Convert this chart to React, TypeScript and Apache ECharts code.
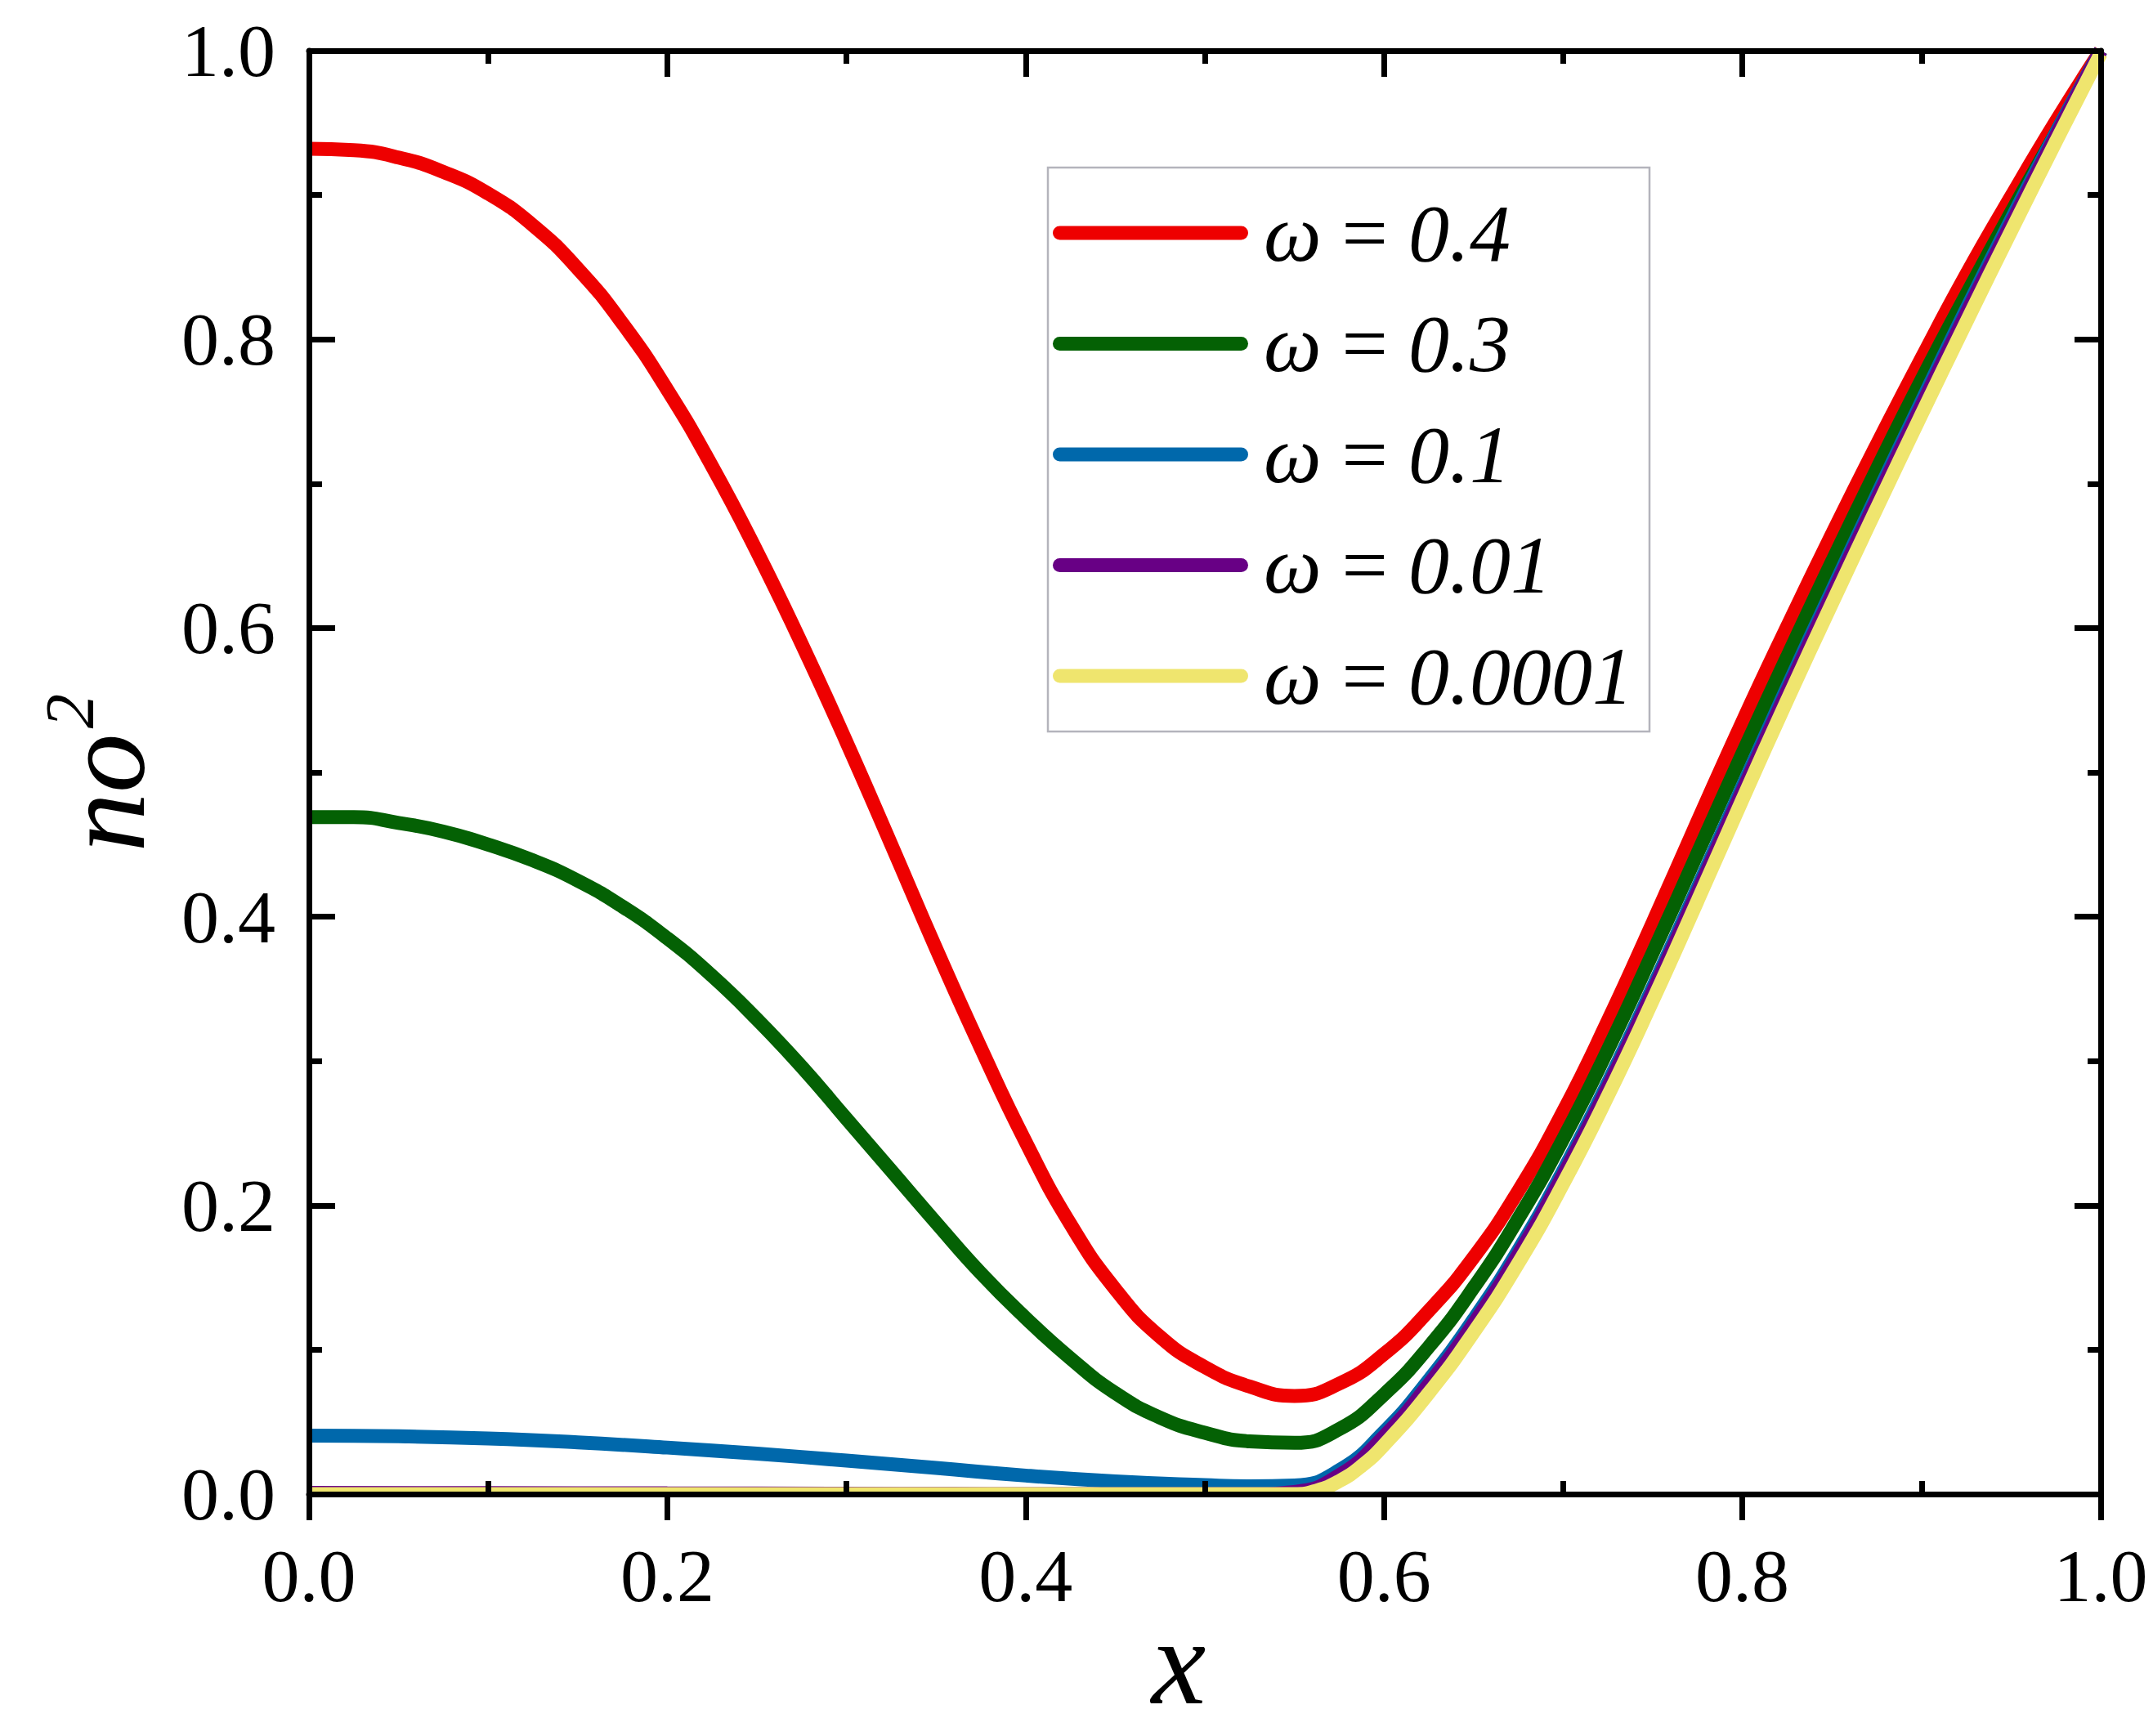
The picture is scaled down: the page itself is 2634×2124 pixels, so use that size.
import React, { useEffect, useRef } from 'react';
import * as echarts from 'echarts';

// ---------- data ----------
const seriesNames = ['ω = 0.4', 'ω = 0.3', 'ω = 0.1', 'ω = 0.01', 'ω = 0.0001'];
const seriesColors = ['#EE0000', '#046104', '#0068AB', '#680085', '#EFE56E'];

const omega04: [number, number][] = [
  [0, 0.932], [0.025, 0.931], [0.05, 0.926], [0.075, 0.916], [0.1, 0.901], [0.125, 0.879],
  [0.15, 0.849], [0.175, 0.811], [0.2, 0.765], [0.225, 0.712], [0.25, 0.653], [0.275, 0.589],
  [0.3, 0.521], [0.325, 0.45], [0.35, 0.378], [0.375, 0.309], [0.4, 0.244], [0.425, 0.187],
  [0.45, 0.142], [0.475, 0.109], [0.5, 0.088], [0.525, 0.0745], [0.55, 0.068], [0.575, 0.0765],
  [0.6, 0.097], [0.625, 0.127], [0.65, 0.164], [0.675, 0.21], [0.7, 0.265],
  [0.725, 0.328], [0.75, 0.396], [0.775, 0.466], [0.8, 0.535], [0.825, 0.601], [0.85, 0.665],
  [0.875, 0.727], [0.9, 0.787], [0.925, 0.845], [0.95, 0.899], [0.975, 0.951], [1, 1.0],
];

const omega03: [number, number][] = [
  [0, 0.469], [0.025, 0.469], [0.05, 0.465], [0.075, 0.459], [0.1, 0.45], [0.125, 0.439],
  [0.15, 0.425], [0.175, 0.407], [0.2, 0.385], [0.225, 0.359], [0.25, 0.329], [0.275, 0.296],
  [0.3, 0.26], [0.325, 0.224], [0.35, 0.188], [0.375, 0.153], [0.4, 0.122], [0.425, 0.094],
  [0.45, 0.07], [0.475, 0.053], [0.5, 0.0425], [0.525, 0.0365], [0.55, 0.0355], [0.575, 0.045],
  [0.6, 0.069], [0.625, 0.102], [0.65, 0.143], [0.675, 0.191], [0.7, 0.246],
  [0.725, 0.308], [0.75, 0.375], [0.775, 0.444], [0.8, 0.513], [0.825, 0.58], [0.85, 0.646],
  [0.875, 0.71], [0.9, 0.772], [0.925, 0.831], [0.95, 0.888], [0.975, 0.943], [1, 1.0],
];

const omega01: [number, number][] = [
  [0, 0.0405], [0.05, 0.04], [0.1, 0.0385], [0.15, 0.0358], [0.2, 0.0322], [0.25, 0.028],
  [0.3, 0.0232], [0.35, 0.0181], [0.4, 0.0128], [0.45, 0.0088], [0.5, 0.0062], [0.525, 0.0054],
  [0.55, 0.006], [0.575, 0.0165], [0.6, 0.043], [0.625, 0.079],
  [0.65, 0.121], [0.675, 0.169], [0.7, 0.224], [0.725, 0.285], [0.75, 0.351], [0.775, 0.42],
  [0.8, 0.49], [0.825, 0.559], [0.85, 0.626], [0.875, 0.692], [0.9, 0.757], [0.925, 0.821],
  [0.95, 0.883], [0.975, 0.943], [1, 1.0],
];

const omega001: [number, number][] = [
  [0, 0.0008], [0.1, 0.0007], [0.2, 0.0005], [0.3, 0.0003], [0.36, 0.0001], [0.4, 0],
  [0.5, 0], [0.525, 0], [0.55, 0.0015], [0.575, 0.013], [0.6, 0.04],
  [0.625, 0.076], [0.65, 0.118], [0.675, 0.166], [0.7, 0.221], [0.725, 0.282], [0.75, 0.348],
  [0.775, 0.417], [0.8, 0.487], [0.825, 0.556], [0.85, 0.623], [0.875, 0.689], [0.9, 0.754],
  [0.925, 0.818], [0.95, 0.88], [0.975, 0.941], [1, 1.0],
];

const omega00001: [number, number][] = [
  [0, 0], [0.2, 0], [0.4, 0], [0.5, 0], [0.525, 0], [0.55, 0], [0.5625, 0.0025], [0.575, 0.009],
  [0.5875, 0.0195], [0.6, 0.034], [0.625, 0.07], [0.65, 0.112], [0.675, 0.16], [0.7, 0.215],
  [0.725, 0.276], [0.75, 0.342], [0.775, 0.411], [0.8, 0.481], [0.825, 0.55], [0.85, 0.617],
  [0.875, 0.683], [0.9, 0.748], [0.925, 0.812], [0.95, 0.875], [0.975, 0.937], [1, 0.998],
];

const seriesData = [omega04, omega03, omega01, omega001, omega00001];

const xTickValues = [0, 0.2, 0.4, 0.6, 0.8, 1.0];
const yTickValues = [0, 0.2, 0.4, 0.6, 0.8, 1.0];

// ---------- styling ----------
const FONT = '"Liberation Serif", "Times New Roman", Times, serif';
const AX = { color: '#000', width: 7 };

export default function App() {
  const ref = useRef<HTMLDivElement>(null);

  useEffect(() => {
    if (!ref.current) return;
    const chart = echarts.init(ref.current, undefined, { renderer: 'svg' });

    const tickFmt = (v: number) => v.toFixed(1);

    const baseAxis = {
      type: 'value' as const,
      min: xTickValues[0],
      max: xTickValues[xTickValues.length - 1],
      interval: 0.2,
      z: 3,
      splitLine: { show: false },
      minorSplitLine: { show: false },
    };

    const option: any = {
      animation: false,
      backgroundColor: '#ffffff',
      textStyle: { fontFamily: FONT },
      grid: { left: 378, right: 64, top: 62, bottom: 296, containLabel: false },
      xAxis: [
        {
          ...baseAxis,
          position: 'bottom',
          axisLine: { show: true, onZero: false, lineStyle: AX },
          axisTick: { show: true, inside: false, length: 32, lineStyle: AX },
          minorTick: { show: false },
          axisLabel: { show: true, margin: 54, color: '#000', fontFamily: FONT, fontSize: 92, formatter: tickFmt },
        },
        {
          ...baseAxis,
          position: 'bottom',
          axisLine: { show: false, onZero: false },
          axisTick: { show: false, inside: true },
          minorTick: { show: true, splitNumber: 2, length: 16, lineStyle: AX },
          axisLabel: { show: false },
        },
        {
          ...baseAxis,
          position: 'top',
          axisLine: { show: true, onZero: false, lineStyle: AX },
          axisTick: { show: true, inside: true, length: 32, lineStyle: AX },
          minorTick: { show: true, splitNumber: 2, length: 16, lineStyle: AX },
          axisLabel: { show: false },
        },
      ],
      yAxis: [
        {
          ...baseAxis,
          min: yTickValues[0],
          max: yTickValues[yTickValues.length - 1],
          position: 'left',
          axisLine: { show: true, onZero: false, lineStyle: AX },
          axisTick: { show: true, inside: true, length: 32, lineStyle: AX },
          minorTick: { show: true, splitNumber: 2, length: 16, lineStyle: AX },
          axisLabel: { show: true, margin: 41, color: '#000', fontFamily: FONT, fontSize: 92, formatter: tickFmt },
        },
        {
          ...baseAxis,
          min: yTickValues[0],
          max: yTickValues[yTickValues.length - 1],
          position: 'right',
          axisLine: { show: true, onZero: false, lineStyle: AX },
          axisTick: { show: true, inside: true, length: 32, lineStyle: AX },
          minorTick: { show: true, splitNumber: 2, length: 16, lineStyle: AX },
          axisLabel: { show: false },
        },
      ],
      legend: {
        orient: 'vertical',
        left: 1288,
        top: 235,
        padding: 0,
        itemGap: 35.5,
        itemWidth: 239,
        itemHeight: 17,
        selectedMode: false,
        icon: 'path://M8.5,0L230.5,0A8.5,8.5,0,0,1,230.5,17L8.5,17A8.5,8.5,0,0,1,8.5,0Z',
        itemStyle: { borderWidth: 0 },
        data: seriesNames,
        formatter: (name: string) => {
          const val = name.split('= ')[1];
          return `{w|ω}{e| = }{n|${val}}`;
        },
        textStyle: {
          color: '#000',
          rich: {
            w: { fontFamily: FONT, fontStyle: 'italic', fontSize: 100, lineHeight: 100, color: '#000', padding: [0, 0, 0, 14] },
            e: { fontFamily: FONT, fontStyle: 'normal', fontSize: 100, lineHeight: 100, color: '#000' },
            n: { fontFamily: FONT, fontStyle: 'italic', fontSize: 100, lineHeight: 100, color: '#000' },
          },
        },
      },
      graphic: [
        {
          type: 'rect',
          z: 0,
          shape: { x: 1282, y: 205, width: 736, height: 690 },
          style: { fill: 'rgba(255,255,255,0)', stroke: '#B4B4BC', lineWidth: 2.5 },
        },
        {
          type: 'rect',
          z: 2,
          silent: true,
          shape: { x: 382, y: 1832, width: 2184, height: 8 },
          style: { fill: '#ffffff' },
        },
        {
          type: 'text',
          x: 1442,
          y: 2033,
          style: { text: 'x', font: 'italic 150px ' + FONT, fill: '#000', align: 'center', verticalAlign: 'middle' },
        },
        {
          type: 'text',
          x: 127,
          y: 970,
          rotation: Math.PI / 2,
          style: { text: 'no', font: 'italic 145px ' + FONT, fill: '#000', align: 'center', verticalAlign: 'middle' },
        },
        {
          type: 'text',
          x: 85,
          y: 870,
          rotation: Math.PI / 2,
          style: { text: '2', font: 'italic 85px ' + FONT, fill: '#000', align: 'center', verticalAlign: 'middle' },
        },
      ],
      series: seriesNames.map((name, i) => ({
        name,
        type: 'line',
        xAxisIndex: 0,
        yAxisIndex: 0,
        data: seriesData[i],
        showSymbol: false,
        symbol: 'none',
        smooth: 0.5,
        z: 1,
        color: seriesColors[i],
        lineStyle: { color: seriesColors[i], width: 17 },
        emphasis: { disabled: true },
      })),
    };

    chart.setOption(option);
    return () => chart.dispose();
  }, []);

  return (
    <div
      ref={ref}
      style={{ position: 'absolute', left: 0, top: 0, width: 2634, height: 2124, background: '#fff' }}
    />
  );
}
